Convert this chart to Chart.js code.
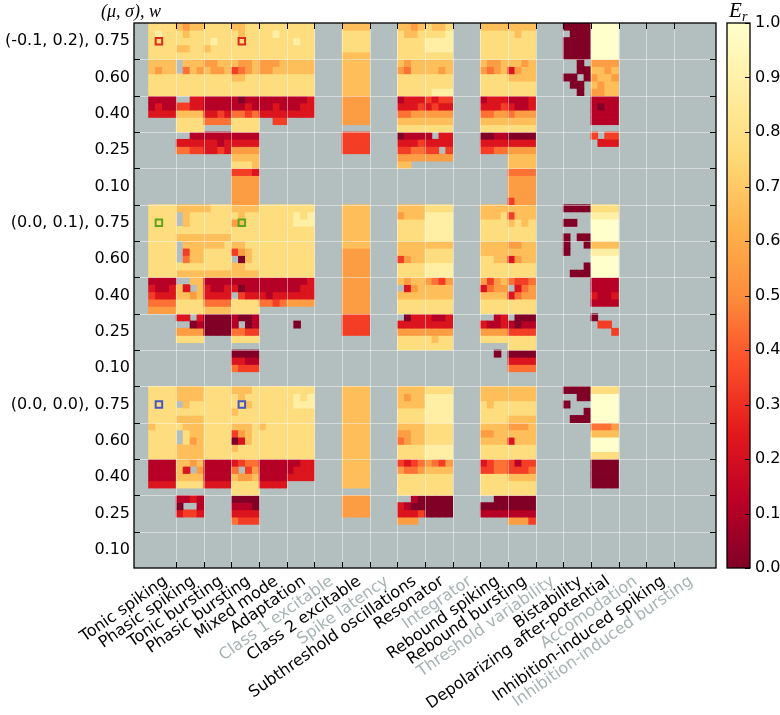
<!DOCTYPE html>
<html>
<head>
<meta charset="utf-8">
<script src="https://cdn.jsdelivr.net/npm/chart.js@4.4.0/dist/chart.umd.min.js"></script>
<style>
  html, body { margin: 0; padding: 0; background: #fff; }
  #wrap { width: 780px; height: 715px; }
</style>
</head>
<body>
<div id="wrap"><canvas id="chart" width="780" height="715"></canvas></div>
<script>
// behaviours (x axis), each split in 4 sub-columns
const categories = [
  'Tonic spiking', 'Phasic spiking', 'Tonic bursting', 'Phasic bursting', 'Mixed mode',
  'Adaptation', 'Class 1 excitable', 'Class 2 excitable', 'Spike latency',
  'Subthreshold oscillations', 'Resonator', 'Integrator', 'Rebound spiking',
  'Rebound bursting', 'Threshold variability', 'Bistability',
  'Depolarizing after-potential', 'Accomodation', 'Inhibition-induced spiking',
  'Inhibition-induced bursting'
];
const greyedOut = [
  false, false, false, false, false, false, true, false, true, false,
  false, true, false, false, true, false, false, true, false, true
];

// y axis: (mu, sigma) groups, each with 5 w values, each w split in 5 sub-rows
const groupLabels = ['(-0.1, 0.2)', '(0.0, 0.1)', '(0.0, 0.0)'];
const wLabels = ['0.75', '0.60', '0.40', '0.25', '0.10'];

// E_r per cell, digit d means E_r = d / 9, '.' means no value
const rowsSigma02 = [
  '7777 6566 7777 6677 7777 7777 .... 6666 .... 6656 7667 .... 6666 6666 .... 0000 9999 .... .... ....',
  '7877 7677 7777 7677 7787 7777 .... 7777 .... 7667 7778 .... 7777 7677 .... .000 9999 .... .... ....',
  '7777 7777 7877 7777 7777 7877 .... 7777 .... 7777 8888 .... 7777 7777 .... 0000 9999 .... .... ....',
  '7777 6677 6777 7777 7777 7777 .... 7777 .... 7777 8888 .... 7777 7777 .... 0000 9999 .... .... ....',
  '7777 7777 7777 7777 7777 7777 .... 6666 .... 7777 7777 .... 7777 7777 .... 0000 9999 .... .... ....',
  '6666 .666 5566 6556 5556 6666 .... 6666 .... 6566 6666 .... 6556 6656 .... ..0. 5555 .... .... ....',
  '6566 .465 6556 3456 5566 6666 .... 6666 .... 5466 6656 .... 5456 2566 .... ..00 6656 .... .... ....',
  '7777 7777 7777 6677 7777 7777 .... 6666 .... 7777 7777 .... 7777 6666 .... 00.0 5665 .... .... ....',
  '7777 7777 7777 7777 7777 7777 .... 6666 .... 7777 7777 .... 7777 7777 .... .00. 6566 .... .... ....',
  '7777 7777 7777 7777 7777 7777 .... 6666 .... 7777 7888 .... 7777 7777 .... ..0. 5566 .... .... ....',
  '1111 ..22 1111 1011 1111 1112 .... 5555 .... 1222 3233 .... 1222 1112 .... .... 1111 .... .... ....',
  '1211 3322 1111 1121 1121 1122 .... 5555 .... 2223 2322 .... 2223 2112 .... .... 1011 .... .... ....',
  '2222 6666 2232 4434 2222 2222 .... 5555 .... 4455 5555 .... 4455 4555 .... .... 1111 .... .... ....',
  '.... 7777 4444 7777 ..33 .... .... 5555 .... 6666 6666 .... 6666 6666 .... .... 1111 .... .... ....',
  '.... 7777 .... 7777 .... .... .... .... .... 7777 7777 .... 7777 7777 .... .... .... .... .... ....',
  '.... ..11 1111 1111 .... .... .... 3333 .... 0111 1.22 .... 0011 0000 .... .... 3.33 .... .... ....',
  '.... 2222 2212 2222 .... .... .... 3333 .... 2223 2222 .... 2222 2222 .... .... .222 .... .... ....',
  '.... 4433 2232 5555 .... .... .... 3333 .... 3344 33.3 .... 3344 5555 .... .... .... .... .... ....',
  '.... .... .... 6666 .... .... .... .... .... 5555 5555 .... .... 6666 .... .... .... .... .... ....',
  '.... .... .... 7776 .... .... .... .... .... 66.. .... .... .... 6666 .... .... .... .... .... ....',
  '.... .... .... 3332 .... .... .... .... .... .... .... .... .... 4444 .... .... .... .... .... ....',
  '.... .... .... 5555 .... .... .... .... .... .... .... .... .... 5555 .... .... .... .... .... ....',
  '.... .... .... 5555 .... .... .... .... .... .... .... .... .... 5555 .... .... .... .... .... ....',
  '.... .... .... 5555 .... .... .... .... .... .... .... .... .... 5555 .... .... .... .... .... ....',
  '.... .... .... 5555 .... .... .... .... .... .... .... .... .... 3555 .... .... .... .... .... ....'
];
const rowsSigma01 = [
  '7777 6666 6777 6666 7777 7777 .... 6666 .... 6666 7777 .... 6666 6666 .... 0000 7777 .... .... ....',
  '7777 .677 7777 7677 7777 7878 .... 6666 .... 5666 8888 .... 6667 3666 .... .... 8888 .... .... ....',
  '7777 .677 7777 5677 7777 7888 .... 6666 .... 7777 8888 .... 7777 6767 .... 00.. 9999 .... .... ....',
  '7777 7777 7777 7777 7777 7777 .... 6666 .... 7777 8888 .... 7777 7777 .... .... 9999 .... .... ....',
  '7777 6666 6666 7777 7777 7777 .... 6666 .... 7777 8888 .... 7777 7777 .... 0.00 9999 .... .... ....',
  '7777 .666 6667 6677 7777 7777 .... 6666 .... 6666 6666 .... 6666 5566 .... 0..0 6666 .... .... ....',
  '7777 .366 7777 3567 7777 7777 .... 5555 .... 6666 7777 .... 6666 6666 .... 0... 8888 .... .... ....',
  '7777 .466 7777 .067 7777 7777 .... 5555 .... 3566 7777 .... 7766 2566 .... .... 9999 .... .... ....',
  '7777 7777 7777 6677 7777 7777 .... 5555 .... 7777 8888 .... 7777 7777 .... ...0 9999 .... .... ....',
  '7777 6666 6666 6666 7777 7777 .... 5555 .... 7777 8888 .... 7777 7777 .... .000 9999 .... .... ....',
  '1111 ..66 1111 1111 1111 1112 .... 5555 .... 6566 5435 .... 5356 4334 .... .... 1111 .... .... ....',
  '2112 62.6 2112 2011 1111 1122 .... 5555 .... .256 6666 .... 2455 .245 .... .... 1111 .... .... ....',
  '3222 6656 2222 .322 2122 2222 .... 5555 .... 6666 6666 .... 6666 2455 .... .... 2112 .... .... ....',
  '4444 7777 4444 7777 4434 5555 .... 5555 .... 7777 7777 .... 7777 7777 .... .... 1111 .... .... ....',
  '5555 7777 6666 7777 .... .... .... 5555 .... 7777 7777 .... 7777 7777 .... .... .... .... .... ....',
  '.... 22.2 0000 1001 .... .... .... 3333 .... .022 2112 .... ..12 .000 .... .... 0... .... .... ....',
  '.... ..01 0000 1.01 .... .0.. .... 3333 .... 2222 2222 .... 2112 1011 .... .... .33. .... .... ....',
  '.... 5555 0000 4433 .... .... .... 3333 .... 5555 5555 .... 5555 3333 .... .... ...3 .... .... ....',
  '.... 7777 .... 7777 .... .... .... .... .... 7777 7677 .... 7777 7777 .... .... .... .... .... ....',
  '.... .... .... .... .... .... .... .... .... 7777 7777 .... .... 7777 .... .... .... .... .... ....',
  '.... .... .... 0000 .... .... .... .... .... .... .... .... ..0. 0000 .... .... .... .... .... ....',
  '.... .... .... 2211 .... .... .... .... .... .... .... .... .... 2222 .... .... .... .... .... ....',
  '.... .... .... 4333 .... .... .... .... .... .... .... .... .... 4444 .... .... .... .... .... ....',
  '.... .... .... .... .... .... .... .... .... .... .... .... .... .... .... .... .... .... .... ....',
  '.... .... .... .... .... .... .... .... .... .... .... .... .... .... .... .... .... .... .... ....'
];
const rowsSigma00 = [
  '7777 6666 7777 6667 7777 7777 .... 6666 .... 6666 7777 .... 6666 6666 .... 0000 7777 .... .... ....',
  '7777 6666 7777 7677 7777 7878 .... 6666 .... 6566 8888 .... 6666 6666 .... ..00 9999 .... .... ....',
  '7777 .677 7777 7767 7777 7888 .... 6666 .... 6666 8888 .... 7677 7777 .... 0... 9999 .... .... ....',
  '7777 7777 7777 6777 7777 7777 .... 6666 .... 7777 8888 .... 7777 7777 .... ...0 9999 .... .... ....',
  '7777 6666 7777 7777 7777 7777 .... 6666 .... 7777 8888 .... 7777 6666 .... .000 9999 .... .... ....',
  '6777 7666 7777 6667 6777 7777 .... 6666 .... 6666 7777 .... 6666 5556 .... .... 4445 .... .... ....',
  '7777 .766 7777 3567 7777 7777 .... 6666 .... 5566 7777 .... 5566 6666 .... .... 6666 .... .... ....',
  '7777 .756 7777 0267 7777 7777 .... 6666 .... 4566 7777 .... 6666 2666 .... .... 9999 .... .... ....',
  '7777 6666 7777 6777 7777 7777 .... 6666 .... 7777 8888 .... 7777 7777 .... .... 9999 .... .... ....',
  '7777 6666 7777 7777 7777 7777 .... 6666 .... 7777 8888 .... 7777 7777 .... .... 7777 .... .... ....',
  '1111 6656 1111 2344 1111 1122 .... 6666 .... 3234 5435 .... 2344 3133 .... .... 0000 .... .... ....',
  '1111 62.5 1111 4.35 1111 1222 .... 6666 .... 5445 6666 .... 3344 3334 .... .... 0000 .... .... ....',
  '1111 6666 1111 6556 1111 2222 .... 6666 .... 7777 7777 .... 7777 6666 .... .... 0000 .... .... ....',
  '2222 7777 2222 7777 2222 .... .... 6666 .... 7777 7777 .... 7777 7777 .... .... 0000 .... .... ....',
  '.... .... .... 7777 .... .... .... .... .... 7777 7777 .... 7777 7777 .... .... .... .... .... ....',
  '.... 1121 .... 0000 .... .... .... 5555 .... ..10 0000 .... ..00 0000 .... .... .... .... .... ....',
  '.... 0..1 .... 1110 .... .... .... 5555 .... 2100 0000 .... 0000 0000 .... .... .... .... .... ....',
  '.... 2332 .... 2222 .... .... .... 5555 .... 2223 0000 .... 1111 1111 .... .... .... .... .... ....',
  '.... .... .... 4333 .... .... .... .... .... 555. .... .... .... 5553 .... .... .... .... .... ....',
  '.... .... .... .... .... .... .... .... .... .... .... .... .... .... .... .... .... .... .... ....',
  '.... .... .... .... .... .... .... .... .... .... .... .... .... .... .... .... .... .... .... ....',
  '.... .... .... .... .... .... .... .... .... .... .... .... .... .... .... .... .... .... .... ....',
  '.... .... .... .... .... .... .... .... .... .... .... .... .... .... .... .... .... .... .... ....',
  '.... .... .... .... .... .... .... .... .... .... .... .... .... .... .... .... .... .... .... ....',
  '.... .... .... .... .... .... .... .... .... .... .... .... .... .... .... .... .... .... .... ....'
];

// highlighted example cells (sub-column, sub-row)
const markerCells = [
  { col: 1, row: 2 }, { col: 13, row: 2 },
  { col: 1, row: 27 }, { col: 13, row: 27 },
  { col: 1, row: 52 }, { col: 13, row: 52 }
];
const markerColors = ['#dd2c1c', '#dd2c1c', '#5fa31a', '#5fa31a', '#4656c4', '#4656c4'];

// YlOrRd, from 0 to 1
const cmapStops = ['#800026', '#bd0026', '#e31a1c', '#fc4e2a', '#fd8d3c', '#feb24c', '#fed976', '#ffeda0', '#ffffcc'];

const SUB_COLS = 4, SUB_ROWS = 5;
const BG_GREY = '#b3bfbe';
const LABEL_SHIFT = 1.5; // x-label anchor nudge (in sub-columns) so the rotated text ends at its tick

function hexToRgb(h) {
  const n = parseInt(h.slice(1), 16);
  return [(n >> 16) & 255, (n >> 8) & 255, n & 255];
}
const stopRgb = cmapStops.map(hexToRgb);
function cmap(v) {
  const t = Math.min(1, Math.max(0, v)) * (stopRgb.length - 1);
  const i = Math.min(stopRgb.length - 2, Math.floor(t));
  const f = t - i;
  const a = stopRgb[i], b = stopRgb[i + 1];
  const c = a.map((x, k) => Math.round(x + (b[k] - x) * f));
  return `rgb(${c[0]},${c[1]},${c[2]})`;
}

const yLabels = [];
groupLabels.forEach(g => wLabels.forEach((w, i) => yLabels.push(i === 0 ? `${g}, ${w}` : w)));

const gridRows = [...rowsSigma02, ...rowsSigma01, ...rowsSigma00].map(s => s.replace(/ /g, ''));
const nCols = categories.length * SUB_COLS;
const nRows = gridRows.length;

const datasets = gridRows.map((line, r) => ({
  type: 'bar',
  xAxisID: 'x',
  yAxisID: 'y',
  data: [...line]
    .map((ch, c) => ch === '.' ? null : { x: c + 0.5, y: [r, r + 1], v: Number(ch) / 9 })
    .filter(Boolean),
  backgroundColor: ctx => (ctx.raw ? cmap(ctx.raw.v) : '#000'),
  borderWidth: 0,
  grouped: false,
  barPercentage: 1,
  categoryPercentage: 1
}));

datasets.push({
  type: 'scatter',
  xAxisID: 'x',
  yAxisID: 'y',
  order: -1,
  data: markerCells.map(m => ({ x: m.col + 0.5, y: m.row + 0.5 })),
  pointStyle: 'rect',
  pointRadius: 4.6,
  pointBorderWidth: 2,
  pointBackgroundColor: 'rgba(0,0,0,0)',
  pointBorderColor: markerColors
});

const decorations = {
  id: 'decorations',
  beforeDraw(chart) {
    const ctx = chart.ctx;
    ctx.save();
    ctx.fillStyle = '#fff';
    ctx.fillRect(0, 0, chart.width, chart.height);
    ctx.restore();
  },
  beforeDatasetsDraw(chart) {
    const { ctx, chartArea: a } = chart;
    ctx.save();
    ctx.fillStyle = BG_GREY;
    ctx.fillRect(a.left, a.top, a.right - a.left, a.bottom - a.top);
    ctx.restore();
  },
  afterDatasetsDraw(chart) {
    const { ctx, chartArea: a, scales } = chart;
    const xs = [], ys = [];
    for (let k = 1; k < categories.length; k++) xs.push(Math.round(scales.x.getPixelForValue(k * SUB_COLS)) + 0.5);
    for (let k = 1; k < yLabels.length; k++) ys.push(Math.round(scales.y.getPixelForValue(k * SUB_ROWS)) + 0.5);
    ctx.save();
    // grid
    ctx.strokeStyle = 'rgba(255,255,255,0.45)';
    ctx.lineWidth = 1;
    ctx.beginPath();
    xs.forEach(x => { ctx.moveTo(x, a.top); ctx.lineTo(x, a.bottom); });
    ys.forEach(y => { ctx.moveTo(a.left, y); ctx.lineTo(a.right, y); });
    ctx.stroke();
    // inward ticks
    ctx.strokeStyle = '#000';
    ctx.beginPath();
    const tl = 6;
    xs.forEach(x => {
      ctx.moveTo(x, a.top); ctx.lineTo(x, a.top + tl);
      ctx.moveTo(x, a.bottom); ctx.lineTo(x, a.bottom - tl);
    });
    ys.forEach(y => {
      ctx.moveTo(a.left, y); ctx.lineTo(a.left + tl, y);
      ctx.moveTo(a.right, y); ctx.lineTo(a.right - tl, y);
    });
    ctx.stroke();
    // frame
    ctx.lineWidth = 1.3;
    ctx.strokeRect(a.left, a.top, a.right - a.left, a.bottom - a.top);

    // colour bar
    const cb = scales.cb;
    const x0 = a.right + 11, w = 23;
    const yTop = cb.getPixelForValue(1), yBot = cb.getPixelForValue(0);
    const g = ctx.createLinearGradient(0, yBot, 0, yTop);
    cmapStops.forEach((c, i) => g.addColorStop(i / (cmapStops.length - 1), c));
    ctx.fillStyle = g;
    ctx.fillRect(x0, yTop, w, yBot - yTop);
    ctx.lineWidth = 1;
    ctx.beginPath();
    cb.ticks.forEach(t => {
      const y = Math.round(cb.getPixelForValue(t.value)) + 0.5;
      ctx.moveTo(x0 + w, y); ctx.lineTo(x0 + w - 5, y);
    });
    ctx.stroke();
    ctx.lineWidth = 1.3;
    ctx.strokeRect(x0, yTop, w, yBot - yTop);

    // axis headers
    ctx.fillStyle = '#000';
    ctx.textBaseline = 'alphabetic';
    ctx.textAlign = 'left';
    ctx.font = 'italic 18px "Liberation Serif"';
    ctx.fillText('(\u03bc, \u03c3), w', 101, 17);
    ctx.font = 'italic 21px "Liberation Serif"';
    ctx.fillText('E', 729, 17);
    ctx.font = 'italic 14px "Liberation Serif"';
    ctx.fillText('r', 742, 21);
    ctx.restore();
  }
};

new Chart(document.getElementById('chart'), {
  type: 'bar',
  data: { datasets },
  options: {
    responsive: false,
    devicePixelRatio: 1,
    animation: false,
    events: [],
    layout: { padding: { top: 23, left: 0, right: 0, bottom: 0 } },
    plugins: { legend: { display: false }, tooltip: { enabled: false }, title: { display: false } },
    scales: {
      x: {
        type: 'linear',
        position: 'bottom',
        min: 0,
        max: nCols,
        grid: { display: false, drawTicks: false },
        border: { display: false },
        afterBuildTicks: s => { s.ticks = categories.map((_, i) => ({ value: (i + 1) * SUB_COLS - LABEL_SHIFT })); },
        afterFit: s => { s.height = 147; s.paddingLeft = 0; s.paddingRight = 0; },
        ticks: {
          autoSkip: false,
          minRotation: 35,
          maxRotation: 35,
          padding: 4,
          font: { family: 'DejaVu Sans', size: 16 },
          color: ctx => (greyedOut[ctx.index] ? '#a7b2b2' : '#000'),
          callback: (v, i) => categories[i]
        }
      },
      y: {
        type: 'linear',
        position: 'left',
        reverse: true,
        min: 0,
        max: nRows,
        grid: { display: false, drawTicks: false },
        border: { display: false },
        afterBuildTicks: s => { s.ticks = yLabels.map((_, i) => ({ value: i * SUB_ROWS + SUB_ROWS / 2 })); },
        afterFit: s => { s.width = 134; s.paddingTop = 0; s.paddingBottom = 0; },
        ticks: {
          autoSkip: false,
          padding: 4,
          font: { family: 'DejaVu Sans', size: 16 },
          color: '#000',
          callback: (v, i) => yLabels[i]
        }
      },
      cb: {
        type: 'linear',
        position: 'right',
        min: 0,
        max: 1,
        grid: { display: false, drawTicks: false },
        border: { display: false },
        afterFit: s => { s.width = 64; s.paddingTop = 0; s.paddingBottom = 0; },
        ticks: {
          stepSize: 0.1,
          padding: 39,
          font: { family: 'DejaVu Sans', size: 16 },
          color: '#000',
          callback: v => v.toFixed(1)
        }
      }
    }
  },
  plugins: [decorations]
});
</script>
</body>
</html>
